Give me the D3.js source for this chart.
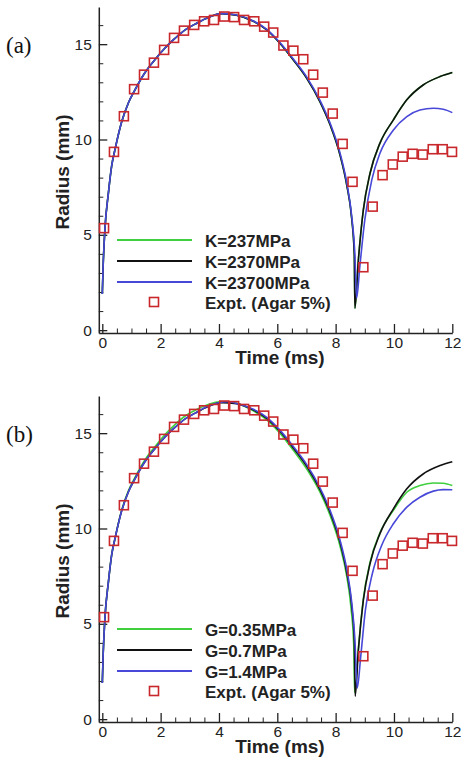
<!DOCTYPE html>
<html lang="en">
<head>
  <meta charset="utf-8">
  <title>Bubble radius vs time</title>
  <script src="https://d3js.org/d3.v7.min.js"></script>
  <style>
    body { margin: 0; background: #fff; }
    svg { display: block; }
    .tick text { font-family: Arial, 'Liberation Sans', sans-serif; font-size: 15.5px; fill: #222; }
    .axis path, .axis line { stroke: #222; }
    .title { font-family: Arial, 'Liberation Sans', sans-serif; font-weight: bold; font-size: 19px; fill: #222; }
    .legend text { font-family: Arial, 'Liberation Sans', sans-serif; font-weight: bold; font-size: 17px; fill: #222; }
    .panel-label { font-family: 'Times New Roman', 'Liberation Serif', serif; font-size: 23px; fill: #111; }
  </style>
</head>
<body>
<div id="chart"></div>
<script>
  // experiment (same in both panels)
  var exptT = [0.06, 0.40, 0.74, 1.09, 1.43, 1.77, 2.12, 2.46, 2.80, 3.15, 3.49, 3.83, 4.18, 4.52, 4.86, 5.21, 5.55, 5.86,
               6.21, 6.55, 6.89, 7.23, 7.56, 7.90, 8.24, 8.58, 8.95, 9.27, 9.61, 9.96, 10.30, 10.64, 10.99, 11.33, 11.67, 11.99];
  var exptR = [5.35, 9.35, 11.22, 12.64, 13.40, 14.03, 14.70, 15.33, 15.71, 16.01, 16.20, 16.27, 16.45, 16.42, 16.27, 16.20, 15.92, 15.61,
               14.93, 14.66, 14.21, 13.40, 12.46, 11.36, 9.77, 7.78, 3.30, 6.48, 8.13, 8.69, 9.10, 9.25, 9.21, 9.49, 9.49, 9.35];

  // panel (a): bulk modulus K
  var aGreenT = [0, 0.03, 0.09, 0.21, 0.32, 0.44, 0.66, 0.89, 1.12, 1.46, 1.81, 2.15, 2.49, 2.84, 3.18, 3.63, 4.1, 4.6, 5.18, 5.64,
                 6.09, 6.55, 7.01, 7.46, 7.81, 8.15, 8.38, 8.55, 8.64, 8.66, 8.78, 8.95, 9.18, 9.52, 9.98, 10.44, 11.0, 11.58, 12.0];
  var aGreenR = [1.9, 3.4, 5.3, 7.2, 8.6, 9.5, 10.9, 11.9, 12.6, 13.5, 14.2, 14.8, 15.3, 15.75, 16.05, 16.4, 16.6, 16.52, 16.2, 15.75,
                 15.05, 14.17, 13.21, 11.99, 10.77, 9.19, 7.62, 5.87, 3.95, 1.15, 3.69, 6.31, 8.23, 9.81, 11.03, 12.08, 12.86, 13.3, 13.51];
  var aBlackT = [0, 0.03, 0.09, 0.21, 0.32, 0.44, 0.66, 0.89, 1.12, 1.46, 1.81, 2.15, 2.49, 2.84, 3.18, 3.63, 4.1, 4.6, 5.18, 5.64,
                 6.09, 6.55, 7.01, 7.46, 7.81, 8.15, 8.38, 8.55, 8.64, 8.66, 8.78, 8.95, 9.18, 9.52, 9.98, 10.44, 11.0, 11.58, 12.0];
  var aBlackR = [1.9, 3.4, 5.3, 7.2, 8.6, 9.5, 10.9, 11.9, 12.6, 13.5, 14.2, 14.8, 15.3, 15.75, 16.05, 16.4, 16.6, 16.52, 16.2, 15.75,
                 15.05, 14.17, 13.21, 11.99, 10.77, 9.19, 7.62, 5.87, 3.95, 1.15, 3.69, 6.31, 8.23, 9.81, 11.03, 12.08, 12.86, 13.3, 13.51];
  var aBlueT = [0, 0.03, 0.09, 0.21, 0.32, 0.44, 0.66, 0.89, 1.12, 1.46, 1.81, 2.15, 2.49, 2.84, 3.18, 3.63, 4.1, 4.6, 5.18, 5.64,
                6.09, 6.55, 7.01, 7.46, 7.81, 8.15, 8.38, 8.55, 8.66, 8.72, 8.83, 9.0, 9.24, 9.52, 9.98, 10.44, 10.89, 11.35, 11.69, 12.0];
  var aBlueR = [1.9, 3.4, 5.3, 7.2, 8.6, 9.5, 10.9, 11.9, 12.6, 13.5, 14.2, 14.8, 15.3, 15.75, 16.05, 16.4, 16.6, 16.53, 16.22, 15.78,
                15.09, 14.22, 13.27, 12.06, 10.86, 9.3, 7.75, 6.0, 4.0, 1.68, 3.34, 5.78, 7.88, 9.28, 10.5, 11.2, 11.55, 11.64, 11.59, 11.41];

  // panel (b): shear modulus G
  var bGreenT = [0, 0.03, 0.09, 0.21, 0.32, 0.44, 0.66, 0.89, 1.12, 1.46, 1.81, 2.15, 2.49, 2.84, 3.18, 3.63, 4.0, 4.5, 5.18, 5.64,
                 6.09, 6.55, 7.01, 7.46, 7.81, 8.15, 8.38, 8.53, 8.62, 8.65, 8.78, 8.95, 9.18, 9.52, 9.98, 10.44, 10.89, 11.35, 11.69, 12.0];
  var bGreenR = [1.9, 3.4, 5.3, 7.2, 8.6, 9.5, 10.95, 11.97, 12.68, 13.6, 14.3, 14.93, 15.45, 15.9, 16.2, 16.5, 16.65, 16.6, 16.17, 15.7,
                 15.0, 14.1, 13.12, 11.92, 10.68, 9.08, 7.5, 5.8, 3.9, 1.4, 3.69, 6.31, 8.23, 9.78, 10.95, 11.9, 12.25, 12.39, 12.37, 12.25];
  var bBlackT = [0, 0.03, 0.09, 0.21, 0.32, 0.44, 0.66, 0.89, 1.12, 1.46, 1.81, 2.15, 2.49, 2.84, 3.18, 3.63, 4.1, 4.6, 5.18, 5.64,
                 6.09, 6.55, 7.01, 7.46, 7.81, 8.15, 8.38, 8.55, 8.64, 8.67, 8.78, 8.95, 9.18, 9.52, 9.98, 10.44, 11.0, 11.58, 12.0];
  var bBlackR = [1.9, 3.4, 5.3, 7.2, 8.6, 9.5, 10.9, 11.9, 12.6, 13.5, 14.2, 14.8, 15.3, 15.75, 16.05, 16.4, 16.6, 16.55, 16.22, 15.78,
                 15.1, 14.22, 13.26, 12.05, 10.84, 9.27, 7.7, 5.95, 4.05, 1.2, 3.63, 6.24, 8.16, 9.73, 11.03, 12.08, 12.86, 13.3, 13.5];
  var bBlueT = [0, 0.03, 0.09, 0.21, 0.32, 0.44, 0.66, 0.89, 1.12, 1.46, 1.81, 2.15, 2.49, 2.84, 3.18, 3.63, 4.3, 4.72, 5.18, 5.64,
                6.09, 6.55, 7.01, 7.46, 7.81, 8.15, 8.38, 8.55, 8.66, 8.74, 8.86, 9.02, 9.26, 9.58, 9.98, 10.44, 10.89, 11.35, 11.69, 12.0];
  var bBlueR = [1.9, 3.4, 5.3, 7.2, 8.6, 9.5, 10.9, 11.9, 12.6, 13.5, 14.2, 14.8, 15.3, 15.75, 16.05, 16.42, 16.65, 16.5, 16.25, 15.83,
                15.16, 14.3, 13.35, 12.15, 10.95, 9.4, 7.88, 6.15, 4.2, 1.63, 3.28, 5.72, 7.64, 9.12, 10.25, 11.12, 11.64, 11.96, 12.04, 12.03];

  var xMajor = [0, 2, 4, 6, 8, 10, 12];
  var yMajor = [0, 5, 10, 15];
  var labelsA = ["K=237MPa", "K=2370MPa", "K=23700MPa"];
  var labelsB = ["G=0.35MPa", "G=0.7MPa", "G=1.4MPa"];
  var exptLabel = "Expt. (Agar 5%)";
  var colors = ["#3fcf3f", "#111111", "#4848d8"];
  var red = "#c8282c";

  var svg = d3.select("#chart").append("svg")
    .attr("width", 461)
    .attr("height", 766);

  var x = d3.scaleLinear().domain([-0.12, 12]).range([98.8, 452.3]);

  function zip(t, r) { return t.map(function(v, i) { return [v, r[i]]; }); }

  function drawPanel(top, tag, series, labels) {
    var g = svg.append("g").attr("transform", "translate(0," + top + ")");
    var y = d3.scaleLinear().domain([-0.15, 16.95]).range([333, 7]);

    // minor ticks
    g.append("g").attr("class", "axis")
      .attr("transform", "translate(0," + y(-0.15) + ")")
      .call(d3.axisBottom(x).tickValues(d3.range(0.5, 12, 0.5).filter(function(v) { return v % 2 !== 0; }))
        .tickSize(-4.5).tickSizeOuter(0).tickFormat(""))
      .select(".domain").remove();
    g.append("g").attr("class", "axis")
      .attr("transform", "translate(" + x(-0.12) + ",0)")
      .call(d3.axisLeft(y).tickValues(d3.range(1, 17, 1).filter(function(v) { return v % 5 !== 0; }))
        .tickSize(-4.5).tickSizeOuter(0).tickFormat(""))
      .select(".domain").remove();

    // major axes
    var xa = g.append("g").attr("class", "axis")
      .attr("transform", "translate(0," + y(-0.15) + ")")
      .call(d3.axisBottom(x).tickValues(xMajor).tickSize(-9).tickSizeOuter(0).tickPadding(4));
    var ya = g.append("g").attr("class", "axis")
      .attr("transform", "translate(" + x(-0.12) + ",0)")
      .call(d3.axisLeft(y).tickValues(yMajor).tickSize(-8.5).tickSizeOuter(0).tickPadding(7));
    xa.selectAll("path, line").attr("stroke-width", 1.5);
    ya.selectAll("path, line").attr("stroke-width", 1.5);
    xa.selectAll(".tick line").attr("stroke-width", 1.3);
    ya.selectAll(".tick line").attr("stroke-width", 1.3);

    // curves
    var line = d3.line()
      .x(function(d) { return x(d[0]); })
      .y(function(d) { return y(d[1]); })
      .curve(d3.curveMonotoneX);
    series.forEach(function(s, i) {
      g.append("path")
        .datum(zip(s[0], s[1]))
        .attr("fill", "none")
        .attr("stroke", colors[i])
        .attr("stroke-width", 1.6)
        .attr("d", line);
    });

    // experiment markers
    g.selectAll("rect.expt")
      .data(zip(exptT, exptR))
      .enter().append("rect")
      .attr("class", "expt")
      .attr("x", function(d) { return x(d[0]) - 4.5; })
      .attr("y", function(d) { return y(d[1]) - 4.5; })
      .attr("width", 9)
      .attr("height", 9)
      .attr("fill", "none")
      .attr("stroke", red)
      .attr("stroke-width", 1.6);

    // legend
    var lg = g.append("g").attr("class", "legend");
    labels.forEach(function(lab, i) {
      var ly = 240 + i * 21;
      lg.append("line").attr("x1", 117).attr("x2", 192).attr("y1", ly).attr("y2", ly)
        .attr("stroke", colors[i]).attr("stroke-width", 2);
      lg.append("text").attr("x", 205).attr("y", ly + 6.5).text(lab);
    });
    lg.append("rect").attr("x", 154 - 4.5).attr("y", 302 - 4.5).attr("width", 9).attr("height", 9)
      .attr("fill", "none").attr("stroke", red).attr("stroke-width", 1.6);
    lg.append("text").attr("x", 205).attr("y", 308.5).text(exptLabel);

    // titles
    g.append("text").attr("class", "title")
      .attr("text-anchor", "middle")
      .attr("transform", "translate(68.5,172) rotate(-90)")
      .text("Radius (mm)");
    g.append("text").attr("class", "title")
      .attr("text-anchor", "middle")
      .attr("x", 280).attr("y", 364)
      .text("Time (ms)");
    g.append("text").attr("class", "panel-label")
      .attr("x", 6).attr("y", 53)
      .text(tag);
  }

  drawPanel(0, "(a)", [[aGreenT, aGreenR], [aBlackT, aBlackR], [aBlueT, aBlueR]], labelsA);
  drawPanel(389, "(b)", [[bGreenT, bGreenR], [bBlackT, bBlackR], [bBlueT, bBlueR]], labelsB);
</script>
</body>
</html>
